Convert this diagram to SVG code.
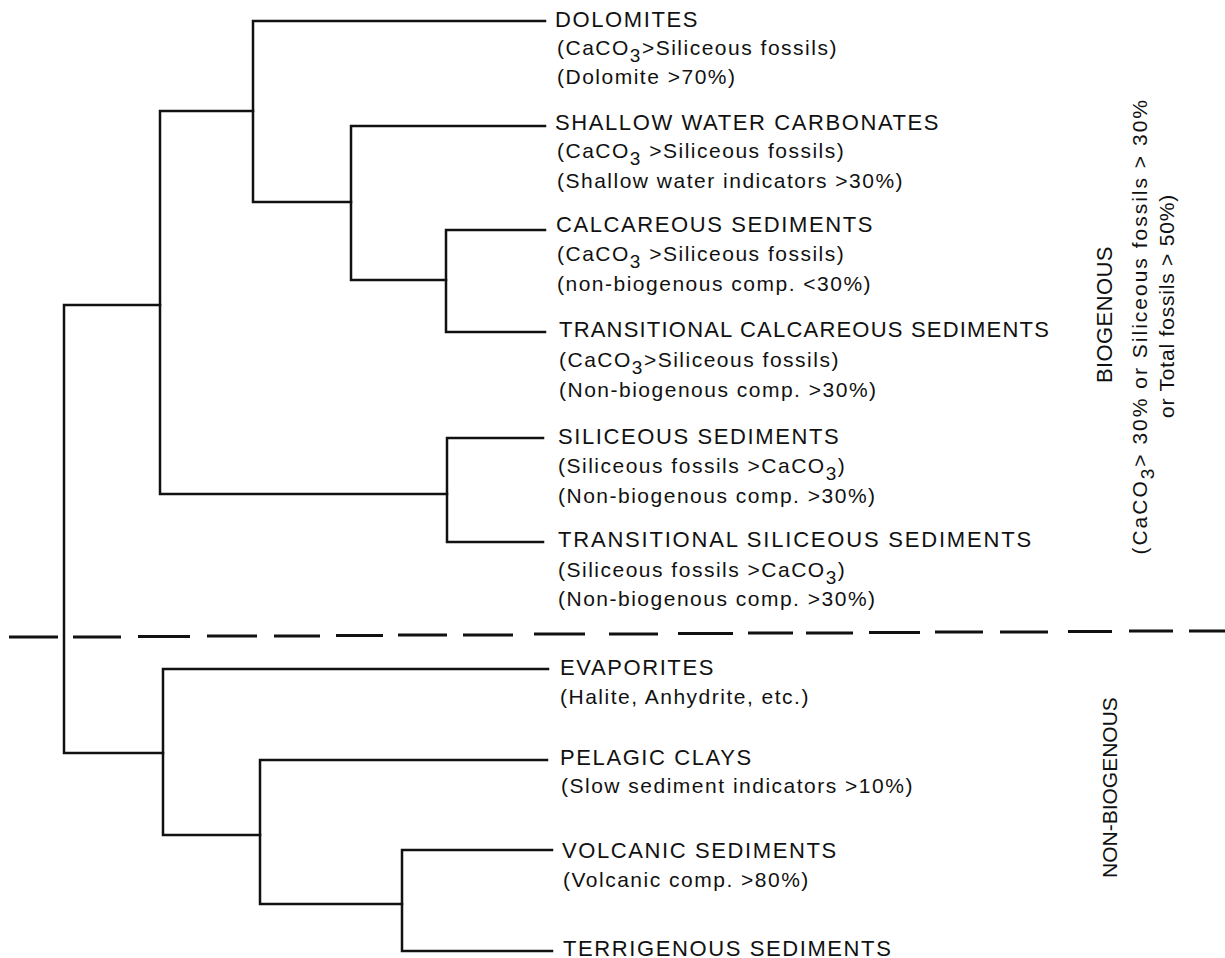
<svg xmlns="http://www.w3.org/2000/svg" width="1225" height="958" viewBox="0 0 1225 958">
<style>
.ln{fill:none;stroke:#111;stroke-width:2.5;stroke-linecap:square}
.dash{fill:none;stroke:#111;stroke-width:2.8}
text{font-family:"Liberation Sans",Arial,Helvetica,sans-serif;fill:#111}
.t{font-size:22px;letter-spacing:1.6px}
.s{font-size:21px;letter-spacing:1.5px}
.sub{font-size:19px}
.r{font-size:22px;letter-spacing:0.4px}
.r2{font-size:21px;letter-spacing:0px}
.rs{font-size:21px;letter-spacing:2px}
.rs3{font-size:21px;letter-spacing:0.8px}
</style>
<rect width="1225" height="958" fill="#fff"/>
<g id="connectors">
<path class="ln" d="M64,305 V753 M64,305 H160 M64,753 H163"/>
<path class="ln" d="M160,111 V494 M160,111 H253 M160,494 H447"/>
<path class="ln" d="M253,21 V202 M253,21 H545 M253,202 H351"/>
<path class="ln" d="M351,126 V280 M351,126 H545 M351,280 H446"/>
<path class="ln" d="M446,230 V332 M446,230 H545 M446,332 H545"/>
<path class="ln" d="M447,438 V542 M447,438 H543 M447,542 H543"/>
<path class="ln" d="M163,669 V835 M163,669 H548 M163,835 H260"/>
<path class="ln" d="M260,760 V904 M260,760 H547 M260,904 H402"/>
<path class="ln" d="M402,850 V951 M402,850 H552 M402,951 H552"/>
</g>
<g id="divider">
<path class="dash" d="M9,637 L58,637 M73,637 L121,637 M138,636.5 L190,636.5 M207,636 L257,636 M274,636 L320,636 M336,635.5 L383,635.5 M398,635 L447,635 M463,635 L513,635 M534,634 L585,634 M609,634 L658,634 M678,633.5 L733,633.5 M748,633 L793,633 M806,633 L853,633 M869,632.5 L920,632.5 M935,632 L983,632 M1000,632 L1048,632 M1068,631.5 L1112,631.5 M1129,631 L1173,631 M1189,631 L1225,631"/>
</g>
<g id="dolomites">
<text class="t" x="555" y="27">DOLOMITES</text>
<text class="s" x="557" y="55">(CaCO<tspan class="sub" dy="7">3</tspan><tspan dy="-7">&gt;Siliceous fossils)</tspan></text>
<text class="s" x="557" y="84">(Dolomite  &gt;70%)</text>
</g>
<g id="shallow-water-carbonates">
<text class="t" x="555" y="130">SHALLOW WATER CARBONATES</text>
<text class="s" x="557" y="158">(CaCO<tspan class="sub" dy="7">3</tspan><tspan dy="-7"> &gt;Siliceous fossils)</tspan></text>
<text class="s" x="557" y="188">(Shallow water indicators &gt;30%)</text>
</g>
<g id="calcareous-sediments">
<text class="t" x="556" y="232">CALCAREOUS SEDIMENTS</text>
<text class="s" x="557" y="261">(CaCO<tspan class="sub" dy="7">3</tspan><tspan dy="-7"> &gt;Siliceous fossils)</tspan></text>
<text class="s" x="557" y="291">(non-biogenous comp. &lt;30%)</text>
</g>
<g id="transitional-calcareous-sediments">
<text class="t" x="559" y="337" style="letter-spacing:1.2px">TRANSITIONAL CALCAREOUS SEDIMENTS</text>
<text class="s" x="559" y="367">(CaCO<tspan class="sub" dy="7">3</tspan><tspan dy="-7">&gt;Siliceous fossils)</tspan></text>
<text class="s" x="559" y="397">(Non-biogenous comp. &gt;30%)</text>
</g>
<g id="siliceous-sediments">
<text class="t" x="558" y="444">SILICEOUS SEDIMENTS</text>
<text class="s" x="558" y="473">(Siliceous fossils &gt;CaCO<tspan class="sub" dy="7">3</tspan><tspan dy="-7">)</tspan></text>
<text class="s" x="558" y="503">(Non-biogenous comp. &gt;30%)</text>
</g>
<g id="transitional-siliceous-sediments">
<text class="t" x="558" y="547" style="letter-spacing:1.8px">TRANSITIONAL SILICEOUS SEDIMENTS</text>
<text class="s" x="558" y="577">(Siliceous fossils &gt;CaCO<tspan class="sub" dy="7">3</tspan><tspan dy="-7">)</tspan></text>
<text class="s" x="558" y="606">(Non-biogenous comp. &gt;30%)</text>
</g>
<g id="evaporites">
<text class="t" x="560" y="675">EVAPORITES</text>
<text class="s" x="560" y="704">(Halite, Anhydrite, etc.)</text>
</g>
<g id="pelagic-clays">
<text class="t" x="560" y="765">PELAGIC CLAYS</text>
<text class="s" x="561" y="793">(Slow sediment indicators &gt;10%)</text>
</g>
<g id="volcanic-sediments">
<text class="t" x="562" y="858">VOLCANIC SEDIMENTS</text>
<text class="s" x="563" y="887">(Volcanic comp. &gt;80%)</text>
</g>
<g id="terrigenous-sediments">
<text class="t" x="563" y="956">TERRIGENOUS SEDIMENTS</text>
</g>
<g id="biogenous-label">
<text class="r" transform="translate(1112,383) rotate(-90)">BIOGENOUS</text>
<text class="rs" transform="translate(1147,98) rotate(-90)" text-anchor="end">(CaCO<tspan class="sub" dy="7">3</tspan><tspan dy="-7">&gt; 30% or Siliceous fossils &gt; 30%</tspan></text>
<text class="rs3" transform="translate(1174,418) rotate(-90)">or Total fossils &gt; 50%)</text>
</g>
<g id="non-biogenous-label">
<text class="r2" transform="translate(1117,878) rotate(-90)">NON-BIOGENOUS</text>
</g>
</svg>
